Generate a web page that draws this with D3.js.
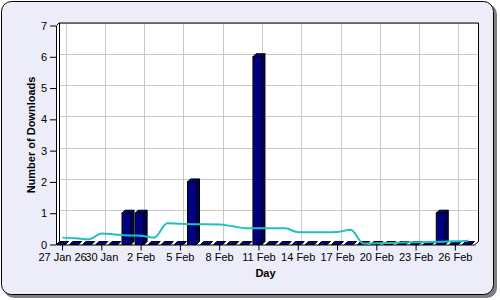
<!DOCTYPE html>
<html lang="en">
<head>
<meta charset="utf-8">
<title>Downloads per day</title>
<script src="https://d3js.org/d3.v7.js"></script>
<style>
  body { margin: 0; }
  text { font-family: "Liberation Sans", Arial, sans-serif; }
</style>
</head>
<body>
<script>
// one entry per day, 27 Jan .. 27 Feb
var days = ["27 Jan","28 Jan","29 Jan","30 Jan","31 Jan","1 Feb","2 Feb","3 Feb",
            "4 Feb","5 Feb","6 Feb","7 Feb","8 Feb","9 Feb","10 Feb","11 Feb",
            "12 Feb","13 Feb","14 Feb","15 Feb","16 Feb","17 Feb","18 Feb","19 Feb",
            "20 Feb","21 Feb","22 Feb","23 Feb","24 Feb","25 Feb","26 Feb","27 Feb"];
var downloads = [0,0,0,0,0,1,1,0, 0,0,2,0,0,0,0,6, 0,0,0,0,0,0,0,0, 0,0,0,0,0,1,0,0];
var trend = [0.22,0.20,0.17,0.35,0.32,0.29,0.28,0.22,
             0.68,0.66,0.65,0.65,0.64,0.58,0.52,0.52,
             0.52,0.52,0.39,0.39,0.39,0.40,0.47,0.03,
             0.04,0.05,0.06,0.07,0.08,0.09,0.10,0.12];
var tickDays = ["27 Jan","30 Jan","2 Feb","5 Feb","8 Feb","11 Feb","14 Feb","17 Feb","20 Feb","23 Feb","26 Feb"];
var tickLabels = ["27 Jan 26","30 Jan","2 Feb","5 Feb","8 Feb","11 Feb","14 Feb","17 Feb","20 Feb","23 Feb","26 Feb"];
var yTicks = [0,1,2,3,4,5,6,7];

var w = 500, h = 300;
var pLeft = 56, pRight = 475, pTop = 25.5, pBottom = 244.5;
var depth = 3;
var barW = 9;

var svg = d3.select("body").append("svg")
  .attr("width", w)
  .attr("height", h);

// background panel with shadow
svg.append("rect")
  .attr("x", 4).attr("y", 4).attr("width", 493).attr("height", 294)
  .attr("rx", 10).attr("fill", "#808080");
svg.append("rect")
  .attr("x", 1.5).attr("y", 1.5).attr("width", 492).attr("height", 293)
  .attr("rx", 10).attr("fill", "#ededfa").attr("stroke", "#000");

var xScale = d3.scaleBand()
  .domain(days)
  .range([pLeft, pRight]);

var yScale = d3.scaleLinear()
  .domain([0, 7])
  .range([pBottom, pTop]);

// plot box (3d)
svg.append("polygon")
  .attr("points", [[pLeft, pTop], [pLeft + depth, pTop - depth], [pRight + depth, pTop - depth],
                   [pRight + depth, pBottom - depth], [pRight, pBottom], [pLeft, pBottom]].join(" "))
  .attr("fill", "#fff");

var grid = svg.append("g").attr("stroke", "#c8c8c8").attr("shape-rendering", "crispEdges");
grid.selectAll("line.h")
  .data(yTicks.slice(1))
  .enter().append("line")
  .attr("x1", pLeft + depth).attr("x2", pRight + depth)
  .attr("y1", d => Math.round(yScale(d) - depth) + 0.5)
  .attr("y2", d => Math.round(yScale(d) - depth) + 0.5);
grid.selectAll("line.v")
  .data(tickDays)
  .enter().append("line")
  .attr("x1", d => Math.round(xScale(d) + xScale.bandwidth() / 2 + depth) + 0.5)
  .attr("x2", d => Math.round(xScale(d) + xScale.bandwidth() / 2 + depth) + 0.5)
  .attr("y1", pTop - depth).attr("y2", pBottom - depth);

svg.append("path")
  .attr("d", "M" + (pLeft + depth + 0.5) + "," + (pBottom - depth) +
             "V" + (pTop - depth + 0.5) + "H" + (pRight + depth + 0.5) +
             "V" + (pBottom - depth))
  .attr("fill", "none").attr("stroke", "#000");
svg.append("line")
  .attr("x1", pLeft + 0.5).attr("y1", pTop).attr("x2", pLeft + depth + 0.5).attr("y2", pTop - depth)
  .attr("stroke", "#000");
svg.append("line")
  .attr("x1", pRight).attr("y1", pBottom).attr("x2", pRight + depth + 0.5).attr("y2", pBottom - depth)
  .attr("stroke", "#000");

// 3d bars
var bars = svg.selectAll("g.bar")
  .data(days.map((d, i) => ({ day: d, v: downloads[i] })))
  .enter().append("g")
  .attr("class", "bar")
  .attr("stroke", "#000")
  .attr("stroke-width", 1);

function x0(d) { return xScale(d.day) + (xScale.bandwidth() - barW - depth) / 2; }

bars.filter(d => d.v > 0).append("rect")
  .attr("x", d => x0(d))
  .attr("y", d => yScale(d.v))
  .attr("width", barW)
  .attr("height", d => pBottom - yScale(d.v))
  .attr("fill", "#000080");
bars.filter(d => d.v > 0).append("polygon")
  .attr("points", d => {
    var a = x0(d) + barW, yv = yScale(d.v);
    return [[a, yv], [a + depth, yv - depth], [a + depth, pBottom - depth], [a, pBottom]].join(" ");
  })
  .attr("fill", "#000066");
bars.append("polygon")
  .attr("points", d => {
    var a = x0(d), yv = yScale(d.v);
    return [[a, yv], [a + depth, yv - depth], [a + barW + depth, yv - depth], [a + barW, yv]].join(" ");
  })
  .attr("fill", "#00008c");

// axes
var yAxis = d3.axisLeft(yScale)
  .tickValues(yTicks)
  .tickFormat(d3.format("d"))
  .tickSize(6)
  .tickSizeOuter(0)
  .tickPadding(3);
svg.append("g")
  .attr("transform", "translate(" + pLeft + ",0)")
  .call(yAxis);

var xAxis = d3.axisBottom(xScale)
  .tickValues(tickDays)
  .tickFormat((d, i) => tickLabels[i])
  .tickSize(6)
  .tickSizeOuter(0)
  .tickPadding(3);
svg.append("g")
  .attr("transform", "translate(0," + pBottom + ")")
  .call(xAxis);

svg.selectAll(".tick text")
  .attr("font-size", "11px")
  .attr("font-family", "'Liberation Sans', Arial, sans-serif")
  .attr("fill", "#000");
svg.selectAll(".domain, .tick line").attr("stroke", "#000");

// trend line
var line = d3.line()
  .x((d, i) => xScale(days[i]) + xScale.bandwidth() / 2)
  .y(d => yScale(d))
  .curve(d3.curveMonotoneX);
svg.append("path")
  .datum(trend)
  .attr("d", line)
  .attr("fill", "none")
  .attr("stroke", "#20c0c0")
  .attr("stroke-width", 2);

// titles
svg.append("text")
  .attr("transform", "translate(35," + ((pTop + pBottom) / 2) + ") rotate(-90)")
  .attr("text-anchor", "middle")
  .attr("font-size", "11px")
  .attr("font-weight", "bold")
  .text("Number of Downloads");
svg.append("text")
  .attr("x", (pLeft + pRight) / 2)
  .attr("y", 277)
  .attr("text-anchor", "middle")
  .attr("font-size", "11px")
  .attr("font-weight", "bold")
  .text("Day");
</script>
</body>
</html>
